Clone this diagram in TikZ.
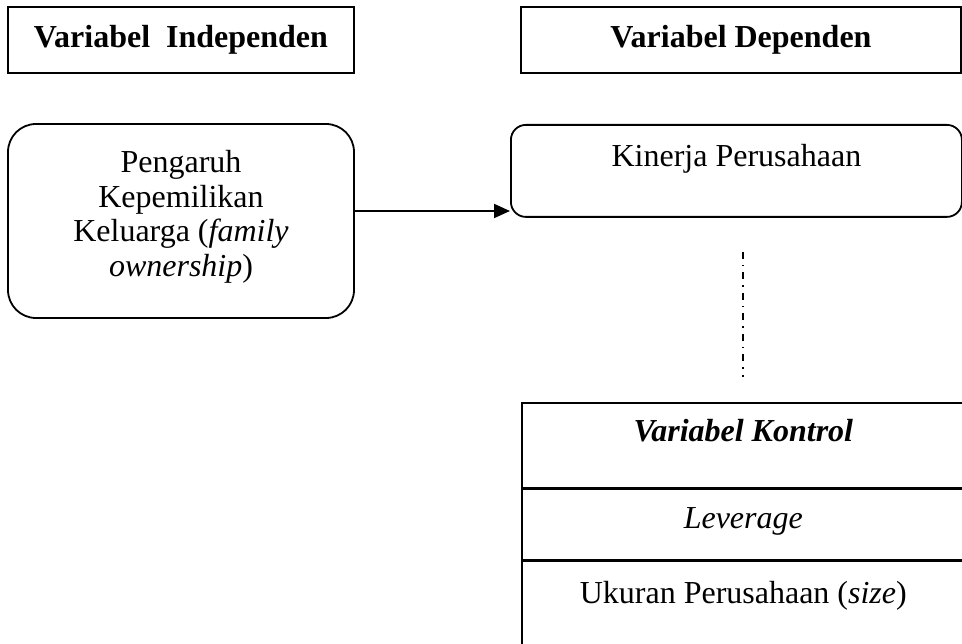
\documentclass[tikz,border=0pt]{standalone}
\usepackage{fontspec}
\setmainfont{Liberation Serif}
\usetikzlibrary{arrows.meta, positioning}

\begin{document}
\begin{tikzpicture}[
    x=1pt, y=-1pt,
    txt/.style={font=\fontsize{32}{34.5}\selectfont, align=center, inner sep=0pt},
    hdrtxt/.style={txt, font=\fontsize{32}{35}\selectfont\bfseries},
    headbox/.style={draw, line width=1.6pt, minimum height=66pt, inner sep=0pt},
    roundbox/.style={draw, line width=1.8pt, inner sep=0pt},
    cell/.style={draw, line width=1.6pt, minimum width=443pt, inner sep=0pt, anchor=north west},
    arrow/.style={-{Triangle[length=16pt, width=14pt]}, line width=1.9pt},
    link/.style={line width=1.8pt, dash pattern=on 7pt off 6pt on 1.5pt off 6pt},
]
\useasboundingbox (0,0) rectangle (962,644);
\clip (0,0) rectangle (962,644);

% Headers
\node[headbox, hdrtxt, minimum width=346pt] (indepHdr) at (181,40) {Variabel\ \ Independen};
\node[headbox, hdrtxt, minimum width=440pt] (depHdr) at (741,40) {Variabel Dependen};

% Independent variable
\node[roundbox, rounded corners=28pt, minimum width=346pt, minimum height=194pt] (famBox) at (181,221) {};
\node[txt] (famText) at ([yshift=4pt]famBox.center) {
    Pengaruh\\Kepemilikan\\Keluarga (\textit{family}\\\textit{ownership})
};

% Dependent variable
\node[roundbox, rounded corners=15pt, minimum width=451pt, minimum height=92pt, anchor=north west] (kinBox) at (510,124) {};
\node[txt, anchor=base] (kinText) at ([yshift=-43pt]kinBox.north) {Kinerja Perusahaan};

% Control variables
\node[cell, minimum height=85pt] (ctlHead) at (521,402) {};
\node[cell, minimum height=70pt] (ctlLev) at (ctlHead.south west) {};
\node[cell, minimum height=100pt] (ctlSize) at (ctlLev.south west) {};
\node[txt, anchor=base, font=\fontsize{32}{35}\selectfont\bfseries\itshape] (ctlText) at ([yshift=-40pt]ctlHead.north) {Variabel Kontrol};
\node[txt, anchor=base] (levText) at ([yshift=-40pt]ctlLev.north) {\textit{Leverage}};
\node[txt, anchor=base] (sizeText) at ([yshift=-43pt]ctlSize.north) {Ukuran Perusahaan (\textit{size})};

% Connectors
\coordinate (famOut) at ([yshift=10pt]famBox.east);
\draw[arrow] (famOut) -- (famOut -| kinBox.west);
\draw[link, shorten <=34pt, shorten >=25pt] (kinBox.south -| ctlHead.north) -- (ctlHead.north);

\end{tikzpicture}
\end{document}
